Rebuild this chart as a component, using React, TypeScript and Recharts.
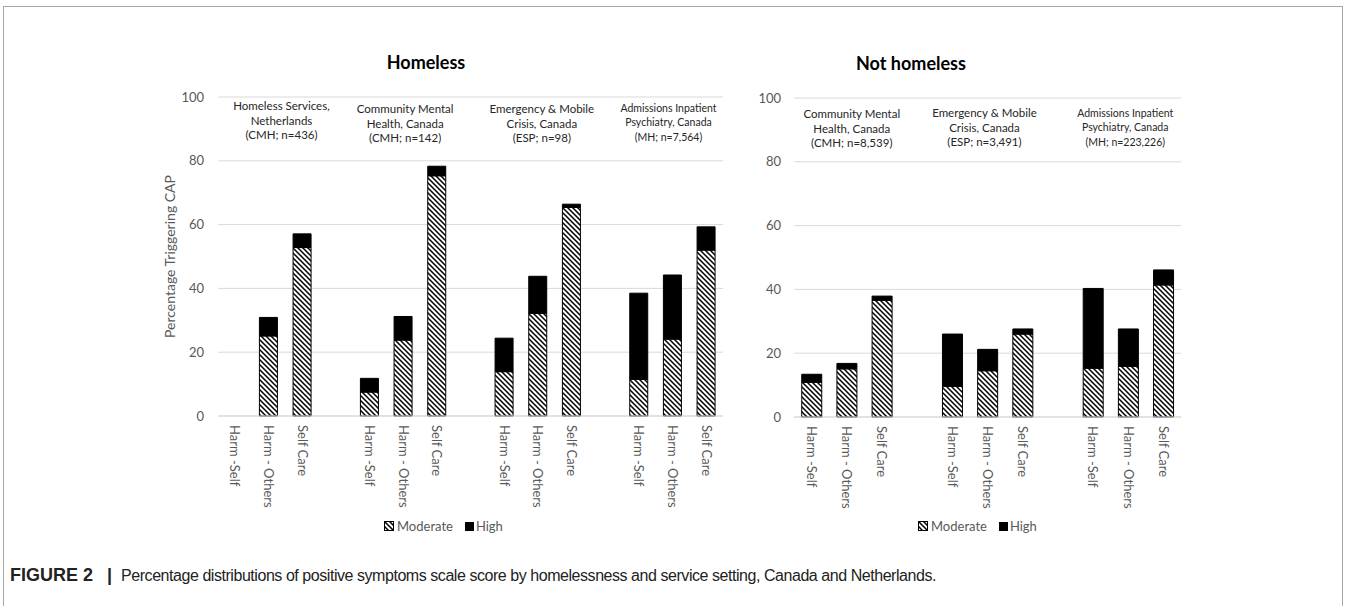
import React from "react";
import { BarChart, Bar, XAxis, YAxis, CartesianGrid, ReferenceDot } from "recharts";

const FONT = "Lato, 'Open Sans', sans-serif";

const measures = ["Harm -Self", "Harm - Others", "Self Care"];
const yTicks = [0, 20, 40, 60, 80, 100];

const homelessSettings = [
  ["Homeless Services,", "Netherlands", "(CMH; n=436)"],
  ["Community Mental", "Health, Canada", "(CMH; n=142)"],
  ["Emergency & Mobile", "Crisis, Canada", "(ESP; n=98)"],
  ["Admissions Inpatient", "Psychiatry, Canada", "(MH; n=7,564)"],
];
const homelessModerate = [
  [0, 25.1, 52.8],
  [7.5, 23.8, 75.3],
  [13.9, 32.2, 65.4],
  [11.5, 24.1, 52.0],
];
const homelessHigh = [
  [0, 5.8, 4.3],
  [4.3, 7.4, 3.0],
  [10.5, 11.6, 1.0],
  [27.0, 20.1, 7.3],
];

const notHomelessSettings = [
  ["Community Mental", "Health, Canada", "(CMH; n=8,539)"],
  ["Emergency & Mobile", "Crisis, Canada", "(ESP; n=3,491)"],
  ["Admissions Inpatient", "Psychiatry, Canada", "(MH; n=223,226)"],
];
const notHomelessModerate = [
  [10.9, 15.1, 36.6],
  [9.6, 14.5, 26.0],
  [15.3, 15.9, 41.4],
];
const notHomelessHigh = [
  [2.5, 1.7, 1.3],
  [16.4, 6.7, 1.6],
  [25.0, 11.7, 4.7],
];

type Row = { key: string; label: string; moderate?: number; high?: number };

// one blank category between settings, like the Excel original
function buildRows(moderate: number[][], high: number[][]): Row[] {
  const rows: Row[] = [];
  moderate.forEach((group, g) => {
    if (g > 0) rows.push({ key: `gap${g}`, label: "" });
    group.forEach((v, m) => {
      rows.push({ key: `g${g}-${m}`, label: measures[m], moderate: v, high: high[g][m] });
    });
  });
  return rows;
}

const leftRows = buildRows(homelessModerate, homelessHigh);
const rightRows = buildRows(notHomelessModerate, notHomelessHigh);

function MeasureTick(props: any) {
  const { x, y, payload, rows } = props;
  const row = rows.find((r: Row) => r.key === payload.value);
  return (
    <g transform={`translate(${x},${y}) rotate(90)`}>
      <text x={0} y={0} dy="0.35em" textAnchor="start" fill="#595959" fontSize={13} fontFamily={FONT}>
        {row ? row.label : ""}
      </text>
    </g>
  );
}

function noteShape(lines: string[], dy: number, dx: number, size: number) {
  return (p: any) => (
    <text textAnchor="middle" fontSize={size} fill="#262626" fontFamily={FONT}>
      {lines.map((l, i) => (
        <tspan key={i} x={p.cx + dx} y={p.cy + dy + i * 14.5 + size * 0.35}>
          {l}
        </tspan>
      ))}
    </text>
  );
}

function AxisTitle(props: any) {
  const vb = props.viewBox ?? { x: 178, y: 97, width: 40, height: 319 };
  const cx = vb.x - 8;
  const cy = vb.y + vb.height / 2;
  return (
    <text
      x={cx}
      y={cy}
      transform={`rotate(-90, ${cx}, ${cy})`}
      textAnchor="middle"
      dy="0.35em"
      fill="#595959"
      fontSize={14}
      fontFamily={FONT}
    >
      Percentage Triggering CAP
    </text>
  );
}

function Hatch({ id }: { id: string }) {
  return (
    <defs>
      <pattern id={id} patternUnits="userSpaceOnUse" width={5} height={5}>
        <rect width={5} height={5} fill="#fff" />
        <path d="M-1,-1 L6,6 M-1,4 L1,6 M4,-1 L6,1" stroke="#000" strokeWidth={1.5} />
      </pattern>
    </defs>
  );
}

function Legend2({ left, top }: { left: number; top: number }) {
  const text = { fontSize: 13, color: "#595959", fontFamily: FONT, lineHeight: "14px" };
  return (
    <div style={{ position: "absolute", left, top, display: "flex", alignItems: "center" }}>
      <svg width={10} height={10} style={{ marginRight: 3 }}>
        <Hatch id={`lg${left}`} />
        <rect x={0.5} y={0.5} width={9} height={9} fill={`url(#lg${left})`} stroke="#000" />
      </svg>
      <span style={text}>Moderate</span>
      <svg width={9} height={9} style={{ marginLeft: 12, marginRight: 2 }}>
        <rect width={9} height={9} fill="#000" />
      </svg>
      <span style={text}>High</span>
    </div>
  );
}

function Title({ text, cx, cy }: { text: string; cx: number; cy: number }) {
  return (
    <div
      style={{
        position: "absolute",
        left: cx - 100,
        top: cy - 12,
        width: 200,
        textAlign: "center",
        fontFamily: FONT,
        fontWeight: 700,
        fontSize: 18,
        lineHeight: "24px",
        color: "#000",
      }}
    >
      {text}
    </div>
  );
}

export default function App() {
  return (
    <div style={{ position: "relative", width: 1351, height: 606, overflow: "hidden", background: "#fff" }}>
      <style>{"body{margin:0}"}</style>
      <div style={{ position: "absolute", left: 3, top: 6, width: 1338, height: 700, border: "1px solid #a6a6a6" }} />

      <Title text="Homeless" cx={426} cy={62} />
      <Title text="Not homeless" cx={911} cy={63} />

      <div style={{ position: "absolute", left: 0, top: 0 }}>
        <BarChart
          width={740}
          height={606}
          data={leftRows}
          margin={{ top: 97, right: 17, bottom: 90, left: 178 }}
          barCategoryGap="23%"
        >
          <Hatch id="hatchL" />
          <CartesianGrid vertical={false} stroke="#d9d9d9" />
          <XAxis
            dataKey="key"
            interval={0}
            height={100}
            tickLine={false}
            tickSize={0}
            tickMargin={9}
            axisLine={{ stroke: "#d9d9d9" }}
            tick={(p: any) => <MeasureTick {...p} rows={leftRows} />}
          />
          <YAxis
            width={40}
            domain={[0, 100]}
            ticks={yTicks}
            tickLine={false}
            axisLine={false}
            tickSize={0}
            tickMargin={14}
            tick={{ fill: "#595959", fontSize: 13, fontFamily: FONT }}
            label={{ content: AxisTitle }}
          />
          <Bar dataKey="moderate" stackId="a" fill="url(#hatchL)" stroke="#000" strokeWidth={1} isAnimationActive={false} />
          <Bar dataKey="high" stackId="a" fill="#000" stroke="#000" strokeWidth={1} isAnimationActive={false} />
          <ReferenceDot x="g0-1" y={100} r={0} shape={noteShape(homelessSettings[0], 9, 13, 11.5)} />
          <ReferenceDot x="g1-1" y={100} r={0} shape={noteShape(homelessSettings[1], 12, 2, 11.5)} />
          <ReferenceDot x="g2-1" y={100} r={0} shape={noteShape(homelessSettings[2], 12, 4, 11.5)} />
          <ReferenceDot x="g3-1" y={100} r={0} shape={noteShape(homelessSettings[3], 11, -4, 10.5)} />
        </BarChart>
      </div>

      <div style={{ position: "absolute", left: 740, top: 0 }}>
        <BarChart
          width={611}
          height={606}
          data={rightRows}
          margin={{ top: 98, right: 170, bottom: 89, left: 14 }}
          barCategoryGap="22%"
        >
          <Hatch id="hatchR" />
          <CartesianGrid vertical={false} stroke="#d9d9d9" />
          <XAxis
            dataKey="key"
            interval={0}
            height={100}
            tickLine={false}
            tickSize={0}
            tickMargin={9}
            axisLine={{ stroke: "#d9d9d9" }}
            tick={(p: any) => <MeasureTick {...p} rows={rightRows} />}
          />
          <YAxis
            width={40}
            domain={[0, 100]}
            ticks={yTicks}
            tickLine={false}
            axisLine={false}
            tickSize={0}
            tickMargin={13}
            tick={{ fill: "#595959", fontSize: 13, fontFamily: FONT }}
          />
          <Bar dataKey="moderate" stackId="a" fill="url(#hatchR)" stroke="#000" strokeWidth={1} isAnimationActive={false} />
          <Bar dataKey="high" stackId="a" fill="#000" stroke="#000" strokeWidth={1} isAnimationActive={false} />
          <ReferenceDot x="g0-1" y={100} r={0} shape={noteShape(notHomelessSettings[0], 16, 5, 11.5)} />
          <ReferenceDot x="g1-1" y={100} r={0} shape={noteShape(notHomelessSettings[1], 15, -3, 11.5)} />
          <ReferenceDot x="g2-1" y={100} r={0} shape={noteShape(notHomelessSettings[2], 15, -3, 10.5)} />
        </BarChart>
      </div>

      <Legend2 left={384} top={519} />
      <Legend2 left={918} top={519} />

      <div
        style={{
          position: "absolute",
          left: 10,
          top: 564,
          fontFamily: "'Liberation Sans', Arial, sans-serif",
          fontSize: 16,
          letterSpacing: "-0.45px",
          lineHeight: "22px",
          color: "#222",
          whiteSpace: "nowrap",
        }}
      >
        <b style={{ fontSize: 18, letterSpacing: 0 }}>FIGURE 2</b>
        <b style={{ fontSize: 18, letterSpacing: 0, margin: "0 9px 0 14px" }}>|</b>
        Percentage distributions of positive symptoms scale score by homelessness and service setting, Canada and Netherlands.
      </div>
    </div>
  );
}
